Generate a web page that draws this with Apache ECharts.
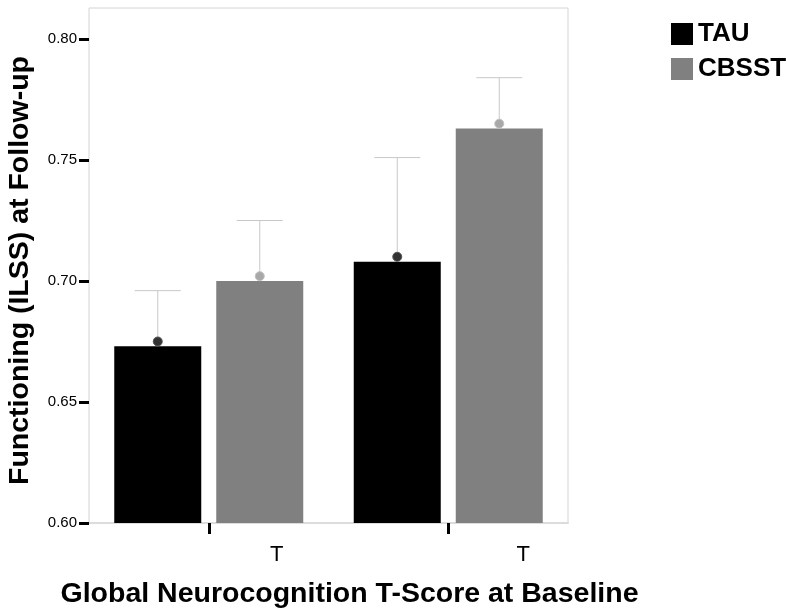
<!DOCTYPE html>
<html style="height: 100%">
<head>
	<meta charset="utf-8">
</head>
<body style="height: 100%; margin: 0; background: #fff">
<div id="container" style="width: 786px; height: 611px"></div>
<script type="text/javascript" src="https://cdn.jsdelivr.net/npm/echarts@6/dist/echarts.min.js"></script>
<script type="text/javascript">
    var categories = ['T', 'T'];
    var groups = ['TAU', 'CBSST'];
    var tauBar = [0.673, 0.708];
    var cbsstBar = [0.700, 0.763];
    // point estimate markers and upper end of the error bars
    var tauMark = [0.675, 0.710];
    var tauUpper = [0.696, 0.751];
    var cbsstMark = [0.702, 0.765];
    var cbsstUpper = [0.725, 0.784];
    var yTicks = [0.60, 0.65, 0.70, 0.75, 0.80];

    var font = 'Liberation Sans, Arial, sans-serif';
    var barW = 87, barGapPx = 15;

    var errData = [];
    for (var i = 0; i < categories.length; i++) {
        errData.push([i, 0, tauMark[i], tauUpper[i]]);
        errData.push([i, 1, cbsstMark[i], cbsstUpper[i]]);
    }

    var dom = document.getElementById("container");
    var myChart = echarts.init(dom);

    var option = {
        backgroundColor: '#ffffff',
        animation: false,
        textStyle: { fontFamily: font },
        grid: {
            left: 89, right: 218, top: 8, bottom: 88,
            outerBoundsMode: 'none', containLabel: false,
            show: true, borderColor: '#d4d4d4', borderWidth: 1
        },
        legend: {
            orient: 'vertical',
            left: 666, top: 16,
            itemWidth: 22, itemHeight: 22, itemGap: 9,
            icon: 'rect',
            data: groups,
            textStyle: { fontFamily: font, fontSize: 26, fontWeight: 'bold', color: '#000' }
        },
        xAxis: {
            type: 'category',
            data: categories,
            axisLine: { lineStyle: { color: '#dcdcdc', width: 2 } },
            axisTick: { show: true, alignWithLabel: true, length: 11, lineStyle: { color: '#000', width: 3 } },
            axisLabel: {
                fontFamily: font, fontSize: 22, color: '#000', margin: 21,
                formatter: function (v, idx) { return '{l' + idx + '|' + v + '}'; },
                rich: {
                    l0: { fontFamily: font, fontSize: 22, color: '#000', padding: [0, 0, 0, 136] },
                    l1: { fontFamily: font, fontSize: 22, color: '#000', padding: [0, 0, 0, 150] }
                }
            },
            name: 'Global Neurocognition T-Score at Baseline',
            nameLocation: 'middle',
            nameGap: 57,
            nameTextStyle: { fontFamily: font, fontSize: 28.5, fontWeight: 'bold', color: '#000', padding: [0, 0, 0, 42] }
        },
        yAxis: {
            type: 'value',
            min: 0.6, max: 0.8128,
            axisLine: { show: false },
            splitLine: { show: false },
            axisTick: { show: true, customValues: yTicks, length: 10, lineStyle: { color: '#000', width: 3 } },
            axisLabel: {
                customValues: yTicks, fontFamily: font, fontSize: 15, color: '#000', margin: 12,
                formatter: function (v) { return v.toFixed(2); }
            },
            name: 'Functioning (ILSS) at Follow-up',
            nameLocation: 'middle',
            nameGap: 54,
            nameTextStyle: { fontFamily: font, fontSize: 28.5, fontWeight: 'bold', color: '#000', padding: [0, 10, 0, 0] }
        },
        series: [
            {
                name: 'TAU', type: 'bar', data: tauBar,
                barWidth: barW, barGap: (barGapPx / barW * 100) + '%',
                itemStyle: { color: '#000000' }
            },
            {
                name: 'CBSST', type: 'bar', data: cbsstBar,
                barWidth: barW,
                itemStyle: { color: '#808080' }
            },
            {
                type: 'custom',
                data: errData,
                z: 10,
                encode: { x: 0, y: [2, 3] },
                renderItem: function (params, api) {
                    var s = api.value(1);
                    var off = (s === 0 ? -1 : 1) * (barW + barGapPx) / 2;
                    var pm = api.coord([api.value(0), api.value(2)]);
                    var pu = api.coord([api.value(0), api.value(3)]);
                    var x = pm[0] + off;
                    var ls = { stroke: '#c8c8c8', lineWidth: 1 };
                    return {
                        type: 'group',
                        children: [
                            { type: 'line', shape: { x1: x, y1: pm[1], x2: x, y2: pu[1] }, style: ls },
                            { type: 'line', shape: { x1: x - 23, y1: pu[1], x2: x + 23, y2: pu[1] }, style: ls },
                            {
                                type: 'circle', shape: { cx: x, cy: pm[1], r: 4.5 },
                                style: { fill: s === 0 ? '#333333' : '#a8a8a8', stroke: s === 0 ? '#555' : '#c0c0c0', lineWidth: 1 }
                            }
                        ]
                    };
                }
            }
        ]
    };

    myChart.setOption(option, true);
</script>
</body>
</html>
